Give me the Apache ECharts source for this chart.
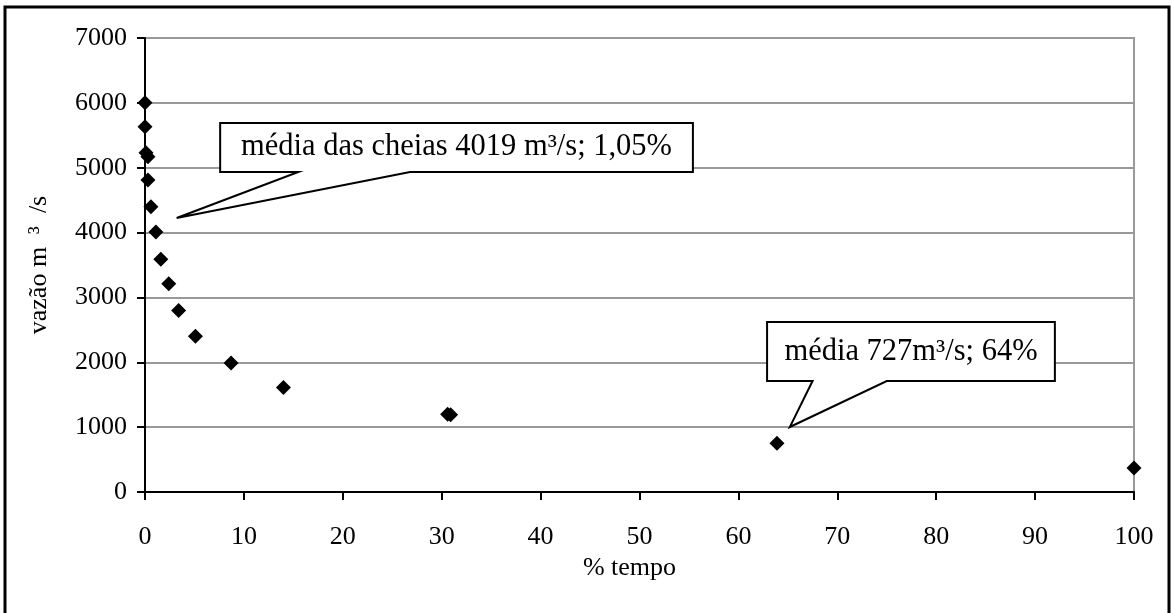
<!DOCTYPE html>
<html><head><meta charset="utf-8">
<script src="https://cdn.jsdelivr.net/npm/echarts@6/dist/echarts.min.js"></script>
<style>html,body{margin:0;padding:0;background:#fff}#c{width:1171px;height:613px}</style>
</head><body><div id="c"></div>
<script>
// ---- data ----
const tempoPct = [0, 0, 0.1, 0.3, 0.3, 0.6, 1.1, 1.6, 2.4, 3.4, 5.1, 8.7, 14.0, 30.6, 30.9, 63.9, 100];
const vazao    = [6000, 5630, 5230, 5170, 4810, 4400, 4010, 3590, 3210, 2800, 2400, 1990, 1610, 1200, 1190, 750, 370];
const xTickLabels = ['0','10','20','30','40','50','60','70','80','90','100'];
const yTickLabels = ['0','1000','2000','3000','4000','5000','6000','7000'];
const xName = '% tempo';
const yName = 'vazão m  ³  /s';
const calloutTexts = ['média das cheias 4019 m³/s; 1,05%', 'média 727m³/s; 64%'];

// ---- layout (annotation geometry in data units) ----
const calloutGeom = [
  {box:[7.6, 5690, 55.4, 4934], base:[15.5, 26.8], tip:[3.2, 4225]},
  {box:[62.9, 2621, 92.0, 1711], base:[67.5, 75.0], tip:[65.2, 1002]}
];

const FONT = 'Liberation Serif';
const chart = echarts.init(document.getElementById('c'), null, {renderer:'canvas'});
const pts = tempoPct.map((x,i)=>[x, vazao[i]]);

chart.setOption({
  animation:false,
  backgroundColor:'#fff',
  textStyle:{fontFamily:FONT},
  grid:{left:145, right:37, top:38, bottom:121, show:true, borderColor:'#999', borderWidth:2},
  xAxis:{
    type:'value', min:0, max:100, interval:10,
    name:xName, nameLocation:'middle', nameGap:58,
    nameTextStyle:{fontFamily:FONT, fontSize:26, color:'#000', padding:[0,20,0,0]},
    axisLine:{show:true, lineStyle:{color:'#000', width:2}},
    axisTick:{show:true, inside:false, length:8, lineStyle:{color:'#000', width:2}},
    axisLabel:{margin:32, fontFamily:FONT, fontSize:26, color:'#000',
      formatter:(v)=>xTickLabels[Math.round(v/10)]},
    splitLine:{show:false}
  },
  yAxis:{
    type:'value', min:0, max:7000, interval:1000,
    name:yName, nameLocation:'middle', nameGap:93,
    nameTextStyle:{fontFamily:FONT, fontSize:26, color:'#000'},
    axisLine:{show:true, lineStyle:{color:'#000', width:2}},
    axisTick:{show:true, inside:false, length:8, lineStyle:{color:'#000', width:2}},
    axisLabel:{margin:18, fontFamily:FONT, fontSize:26, color:'#000',
      formatter:(v)=>yTickLabels[Math.round(v/1000)]},
    splitLine:{show:true, lineStyle:{color:'#999', width:2}}
  },
  series:[{
    type:'scatter', data:pts, symbol:'diamond', symbolSize:15,
    itemStyle:{color:'#000', opacity:1}, z:5
  }]
});

function px(p){ return chart.convertToPixel({gridIndex:0}, p); }
const graphics = [{
  type:'rect', shape:{x:5, y:7, width:1164, height:700},
  style:{fill:null, stroke:'#000', lineWidth:3}, z:100, silent:true
}];
calloutGeom.forEach((g,i)=>{
  const tl = px([g.box[0], g.box[1]]);
  const br = px([g.box[2], g.box[3]]);
  const b1 = px([g.base[0], g.box[3]]);
  const b2 = px([g.base[1], g.box[3]]);
  const tip = px(g.tip);
  graphics.push({
    type:'polygon', z:50,
    shape:{points:[[tl[0],tl[1]],[br[0],tl[1]],[br[0],br[1]],[b2[0],br[1]],[tip[0],tip[1]],[b1[0],br[1]],[tl[0],br[1]]]},
    style:{fill:'#fff', stroke:'#000', lineWidth:2}
  });
  graphics.push({
    type:'text', z:51,
    x:(tl[0]+br[0])/2, y:(tl[1]+br[1])/2,
    style:{text:calloutTexts[i], fontFamily:FONT, fontSize:30.5, fill:'#000', align:'center', verticalAlign:'middle'}
  });
});
chart.setOption({graphic:graphics});
</script></body></html>
